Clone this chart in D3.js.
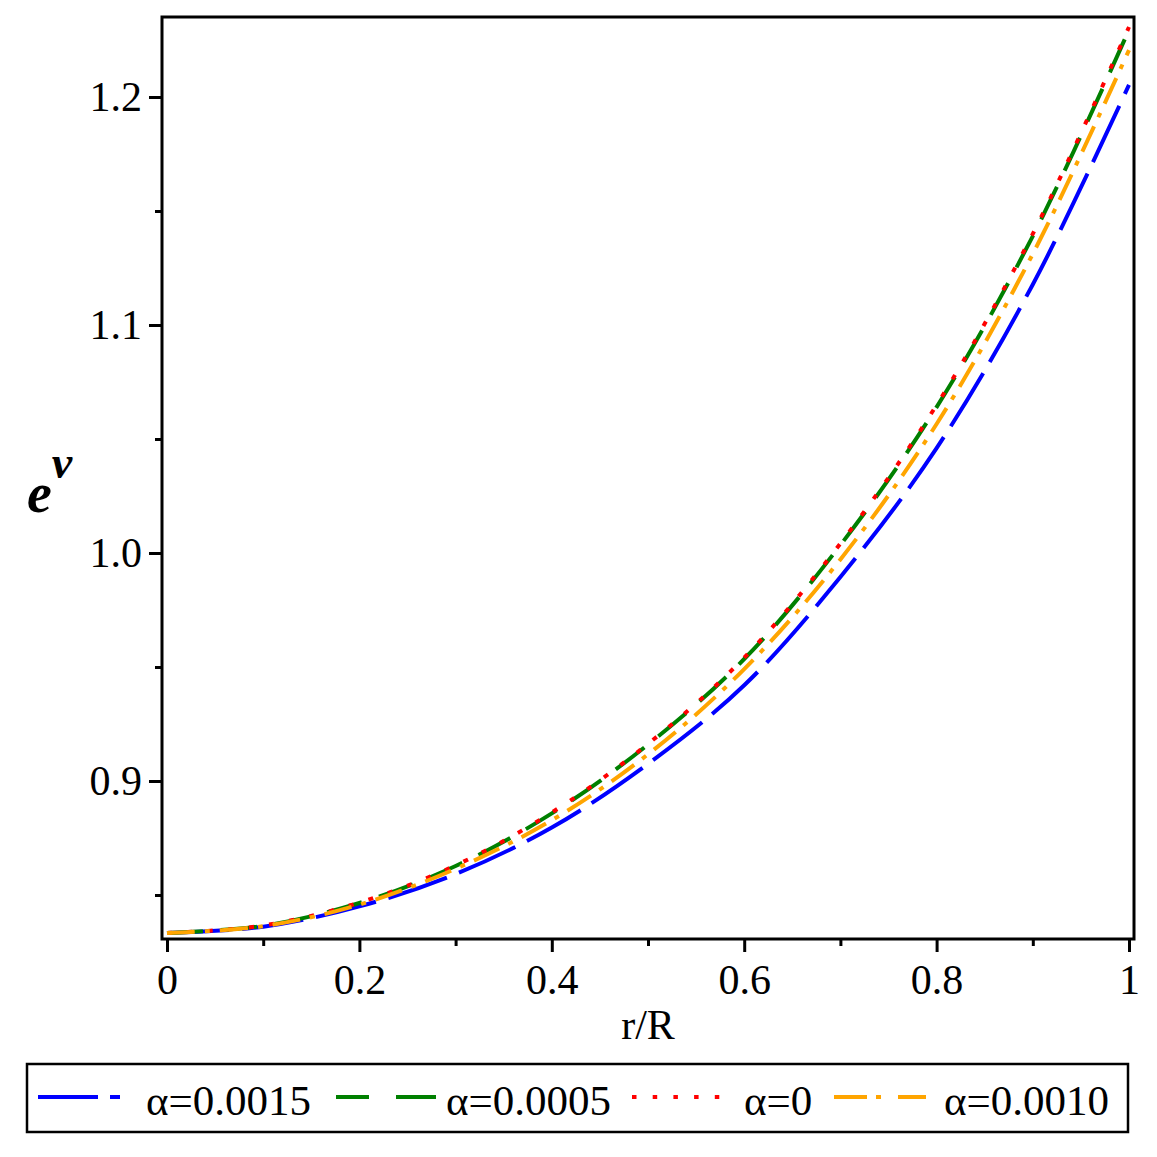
<!DOCTYPE html>
<html><head><meta charset="utf-8">
<script src="https://cdn.jsdelivr.net/npm/d3@7"></script>
<style>body{margin:0;background:#fff}svg{display:block}</style>
</head><body>
<script>
// ---- data ----
const rValues = [0, 0.1, 0.2, 0.3, 0.4, 0.5, 0.6, 0.7, 0.8, 0.9, 1.0];
const alpha0015 = [0.8333, 0.8361, 0.8450, 0.8592, 0.8796, 0.9075, 0.9420, 0.9895, 1.0460, 1.1178, 1.2053];
const alpha0005 = [0.8333, 0.8365, 0.8465, 0.8627, 0.8858, 0.9160, 0.9535, 1.0035, 1.0640, 1.1390, 1.2295];
const alpha0    = [0.8333, 0.8366, 0.8467, 0.8630, 0.8862, 0.9163, 0.9541, 1.0042, 1.0649, 1.1400, 1.2307];
const alpha0010 = [0.8333, 0.8363, 0.8458, 0.8615, 0.8828, 0.9117, 0.9491, 0.9972, 1.0566, 1.1312, 1.2206];
const seriesNames = ["α=0.0015", "α=0.0005", "α=0", "α=0.0010"];
const seriesColors = ["#0000ff", "#008000", "#ff0000", "#ffa500"];
const seriesDash = ["62,13", "36,18", "5,15.5", "28,10,5,10"];
const xMajorTicks = [0, 0.2, 0.4, 0.6, 0.8, 1];
const xTickLabels = ["0", "0.2", "0.4", "0.6", "0.8", "1"];
const xMinorTicks = [0.1, 0.3, 0.5, 0.7, 0.9];
const yMajorTicks = [0.9, 1.0, 1.1, 1.2];
const yTickLabels = ["0.9", "1.0", "1.1", "1.2"];
const yMinorTicks = [0.85, 0.95, 1.05, 1.15];

const W = 1157, H = 1157;
const svg = d3.select("body").append("svg").attr("width", W).attr("height", H);
const font = "'Liberation Serif', 'Times New Roman', serif";

const frame = {l: 162, r: 1134, t: 17, b: 939};
const x = d3.scaleLinear().domain([0, 1]).range([167, 1129]);
const y = d3.scaleLinear().domain([0.8307, 1.2351]).range([frame.b, frame.t]);

// axes ticks
const xAxisMajor = d3.axisBottom(x).tickValues(xMajorTicks).tickSize(13).tickFormat((d, i) => xTickLabels[i]).tickPadding(12);
const xAxisMinor = d3.axisBottom(x).tickValues(xMinorTicks).tickSize(7).tickFormat("");
const yAxisMajor = d3.axisLeft(y).tickValues(yMajorTicks).tickSize(13).tickFormat((d, i) => yTickLabels[i]).tickPadding(7);
const yAxisMinor = d3.axisLeft(y).tickValues(yMinorTicks).tickSize(7).tickFormat("");

function styleAxis(g) {
  g.select(".domain").remove();
  g.selectAll(".tick line").attr("stroke", "#000").attr("stroke-width", 3);
  g.selectAll(".tick text").attr("fill", "#000").style("font-family", font).style("font-size", "42px");
}
svg.append("g").attr("transform", `translate(0,${frame.b})`).call(xAxisMajor).call(styleAxis);
svg.append("g").attr("transform", `translate(0,${frame.b})`).call(xAxisMinor).call(styleAxis);
svg.append("g").attr("transform", `translate(${frame.l},0)`).call(yAxisMajor).call(styleAxis);
svg.append("g").attr("transform", `translate(${frame.l},0)`).call(yAxisMinor).call(styleAxis);

// curves
const allSeries = [alpha0015, alpha0005, alpha0, alpha0010];
const line = d3.line().x(d => x(d[0])).y(d => y(d[1])).curve(d3.curveCatmullRom.alpha(0.5));
svg.append("clipPath").attr("id", "clip").append("rect")
  .attr("x", frame.l).attr("y", frame.t).attr("width", frame.r - frame.l).attr("height", frame.b - frame.t);
allSeries.forEach((vals, i) => {
  svg.append("path")
    .datum(rValues.map((r, j) => [r, vals[j]]))
    .attr("d", line)
    .attr("fill", "none")
    .attr("stroke", seriesColors[i])
    .attr("stroke-width", 4)
    .attr("stroke-dasharray", seriesDash[i])
    .attr("clip-path", "url(#clip)");
});

// frame
svg.append("rect").attr("x", frame.l).attr("y", frame.t)
  .attr("width", frame.r - frame.l).attr("height", frame.b - frame.t)
  .attr("fill", "none").attr("stroke", "#000").attr("stroke-width", 3);

// axis labels
svg.append("text").attr("x", 648).attr("y", 1039).attr("text-anchor", "middle")
  .style("font-family", font).style("font-size", "42px").text("r/R");
const yl = svg.append("text").attr("x", 27).attr("y", 512)
  .style("font-family", font).style("font-weight", "bold").style("font-style", "italic");
yl.append("tspan").style("font-size", "56px").text("e");
yl.append("tspan").attr("dy", -34).attr("dx", 0).style("font-size", "46px").text("ν");

// legend
svg.append("rect").attr("x", 27).attr("y", 1064).attr("width", 1101).attr("height", 68)
  .attr("fill", "none").attr("stroke", "#000").attr("stroke-width", 2.5);
const legendItems = [
  {x0: 38, x1: 136, tx: 146},
  {x0: 336, x1: 436, tx: 446},
  {x0: 632, x1: 720, tx: 744},
  {x0: 834, x1: 928, tx: 944}
];
legendItems.forEach((it, i) => {
  svg.append("line").attr("x1", it.x0).attr("x2", it.x1).attr("y1", 1097).attr("y2", 1097)
    .attr("stroke", seriesColors[i]).attr("stroke-width", 4)
    .attr("stroke-dasharray", i === 0 ? "60,12,10,100" : i === 1 ? "33,27,40,100" : i === 2 ? "4.5,16.2" : "33,9,5,17,28,100");
  svg.append("text").attr("x", it.tx).attr("y", 1115)
    .style("font-family", font).style("font-size", "43px").text(seriesNames[i]);
});
</script>
</body></html>
